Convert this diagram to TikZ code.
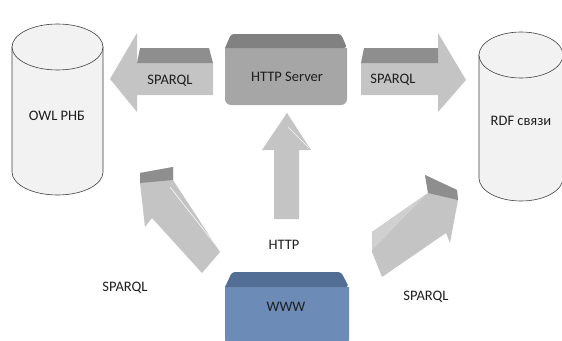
\documentclass[tikz,border=0pt]{standalone}
\usepackage{fontspec}
\setmainfont{Carlito}
\definecolor{cylfill}{HTML}{F2F2F2}
\definecolor{cylline}{HTML}{404040}
\definecolor{arrfront}{HTML}{C4C4C4}
\definecolor{arrtop}{HTML}{8E8E8E}
\definecolor{arrlight}{HTML}{D0D0D0}
\definecolor{srvfront}{HTML}{A6A6A6}
\definecolor{srvtop}{HTML}{818181}
\definecolor{wwwfront}{HTML}{6C8BB6}
\definecolor{wwwtop}{HTML}{536E95}
\definecolor{txt}{HTML}{1E1E1E}
\begin{document}
\begin{tikzpicture}[x=1pt,y=-1pt,
  lbl/.style={font=\fontsize{14.5}{17}\selectfont, text=txt, inner sep=0pt},
  cyl/.style={fill=cylfill, draw=cylline, line width=0.6pt},
  front/.style={fill=arrfront},
  topface/.style={fill=arrtop},
  hilite/.style={draw=white!85!arrfront, line width=0.7pt}]
\useasboundingbox (0,0) rectangle (562,340);

% left cylinder
\filldraw[cyl] (12,47) -- (12,172) arc[start angle=180,end angle=0,x radius=45.5,y radius=23] -- (103,47) -- cycle;
\filldraw[cyl] (57.5,47) ellipse[x radius=45.5,y radius=23];
\node[lbl] (owl) at (57,116) {OWL РНБ};

% right cylinder
\filldraw[cyl] (479,55) -- (479,178) arc[start angle=180,end angle=0,x radius=42,y radius=23] -- (563,55) -- cycle;
\filldraw[cyl] (521,55) ellipse[x radius=42,y radius=23];
\node[lbl] (rdf) at (521,121) {RDF связи};

% HTTP server box
\fill[srvfront] (225,48) [rounded corners=6pt] -- (225,105) -- (347,105) [sharp corners] -- (347,48) -- cycle;
\fill[srvtop, rounded corners=3pt] (225,48) -- (231,34) -- (341,34) -- (347,48) [sharp corners] -- cycle;
\node[lbl] (srv) at (287,77) {HTTP Server};

% WWW box
\fill[wwwfront] (225,287) [rounded corners=6pt] -- (225,345) -- (349,345) [sharp corners] -- (349,287) -- cycle;
\fill[wwwtop, rounded corners=3pt] (225,287) -- (232,272) -- (341,272) -- (349,287) [sharp corners] -- cycle;
\node[lbl] (www) at (286,307) {WWW};

% left SPARQL arrow
\fill[front] (213,63) -- (213,95) -- (137,95) -- (137,112) -- (110,79) -- (137,33) -- (137,63) -- cycle;
\fill[topface] (137,63) -- (140,48) -- (209,48) -- (213,63) -- cycle;
\node[lbl] (sq1) at (170,81) {SPARQL};

% right SPARQL arrow
\fill[front] (361,63) -- (438,63) -- (438,33) -- (466,80) -- (438,112) -- (438,95) -- (361,95) -- cycle;
\fill[topface] (361,63) -- (364,48) -- (438,48) -- (438,63) -- cycle;
\node[lbl] (sq2) at (393,80) {SPARQL};

% up HTTP arrow
\fill[front] (274,219) -- (274,150) -- (262,150) -- (287,113) -- (311,150) -- (299,150) -- (299,219) -- cycle;
\draw[hilite] (288,127) -- (309,148);
\node[lbl] (http) at (284,245) {HTTP};

% lower-left diagonal arrow
\fill[front] (140,173) -- (173,167) -- (173,180) -- (220,252) -- (202,273) -- (152,218) -- (145,227) -- (140,183) -- cycle;
\fill[topface] (140,173) -- (173,167) -- (173,180) -- (140,183) -- cycle;
\draw[hilite] (170,187) -- (218,248);
\node[lbl] (sq3) at (125,288) {SPARQL};

% lower-right diagonal arrow
\fill[front] (425,175) -- (457,190) -- (458,200) -- (450,243) -- (446,233) -- (382,277) -- (372,252) -- (372,232) -- (428,193) -- cycle;
\fill[arrlight] (428,193) -- (372,232) -- (372,250) -- cycle;
\fill[topface] (425,175) -- (457,190) -- (458,200) -- (428,193) -- cycle;
\node[lbl] (sq4) at (426,297) {SPARQL};
\end{tikzpicture}
\end{document}
